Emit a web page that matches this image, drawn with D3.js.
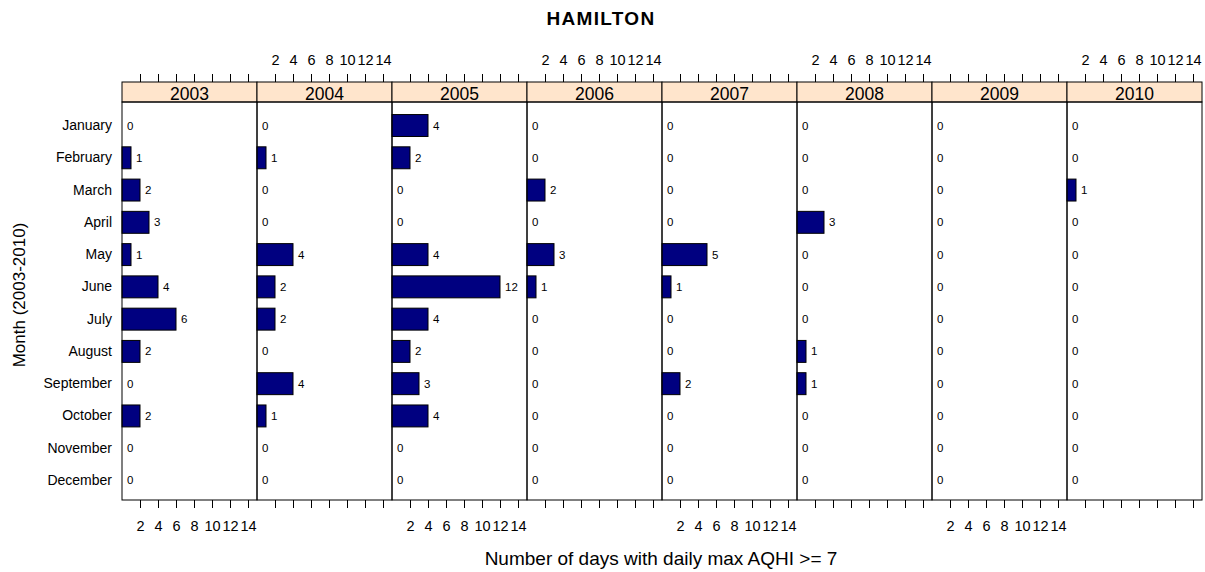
<!DOCTYPE html>
<html><head><meta charset="utf-8">
<script src="https://cdn.jsdelivr.net/npm/d3@7"></script>
<style>body{margin:0;background:#fff}svg{display:block}text{font-family:"Liberation Sans",Arial,sans-serif}</style>
</head><body><svg id="c" width="1205" height="572"></svg>
<script>
const months = ["January","February","March","April","May","June","July","August","September","October","November","December"];
const years = ["2003","2004","2005","2006","2007","2008","2009","2010"];
const v2003 = [0,1,2,3,1,4,6,2,0,2,0,0];
const v2004 = [0,1,0,0,4,2,2,0,4,1,0,0];
const v2005 = [4,2,0,0,4,12,4,2,3,4,0,0];
const v2006 = [0,0,2,0,3,1,0,0,0,0,0,0];
const v2007 = [0,0,0,0,5,1,0,0,2,0,0,0];
const v2008 = [0,0,0,3,0,0,0,1,1,0,0,0];
const v2009 = [0,0,0,0,0,0,0,0,0,0,0,0];
const v2010 = [0,0,1,0,0,0,0,0,0,0,0,0];
const xTicks = [2,4,6,8,10,12,14];
const series = [v2003,v2004,v2005,v2006,v2007,v2008,v2009,v2010];

const FONT = '"Liberation Sans",Arial,sans-serif';
const svg = d3.select("#c");
const L = 122, R = 1202, T = 102, B = 500, stripTop = 82;
const pw = (R - L) / years.length;
const px = d3.scaleBand().domain(years).range([L, R]);
const y = d3.scaleBand().domain(months).range([T + 4, B]).paddingInner(0.32).paddingOuter(0.265);

svg.append("text").attr("x", 601).attr("y", 25).attr("text-anchor","middle")
  .attr("font-size", 19).attr("font-weight","bold").attr("letter-spacing", 1.3).text("HAMILTON");

years.forEach((yr, i) => {
  const x0 = px(yr);
  const x = d3.scaleLinear().domain([0, 15]).range([x0, x0 + pw]);
  const g = svg.append("g");
  g.append("rect").attr("x", x0).attr("y", stripTop).attr("width", pw).attr("height", T - stripTop)
    .attr("fill", "#ffe5cc").attr("stroke", "#000").attr("stroke-width", 1);
  g.append("text").attr("x", x0 + pw/2).attr("y", T - 2.5).attr("text-anchor","middle")
    .attr("font-size", 17.5).text(yr);
  const vals = series[i];
  g.selectAll("rect.bar").data(vals).join("rect").attr("class","bar")
    .attr("x", x(0)).attr("y", (d,j) => y(months[j]))
    .attr("width", d => x(d) - x(0)).attr("height", y.bandwidth())
    .attr("fill", "#000080").attr("stroke", "#000").attr("stroke-width", d => d > 0 ? 1 : 0);
  g.selectAll("text.val").data(vals).join("text").attr("class","val")
    .attr("x", d => x(d) + 5).attr("y", (d,j) => y(months[j]) + y.bandwidth()/2 + 4)
    .attr("font-size", 11.5).attr("fill", "#000").text(d => d);
  g.append("rect").attr("x", x0).attr("y", T).attr("width", pw).attr("height", B - T)
    .attr("fill", "none").attr("stroke", "#000").attr("stroke-width", 1);
  const topAx = d3.axisTop(x).tickValues(xTicks).tickSize(8).tickPadding(9)
    .tickFormat(i % 2 === 1 ? d3.format("d") : "");
  const ta = svg.append("g").attr("transform", `translate(0,${stripTop})`).call(topAx);
  const botAx = d3.axisBottom(x).tickValues(xTicks).tickSize(8).tickPadding(13)
    .tickFormat(i % 2 === 0 ? d3.format("d") : "");
  const ba = svg.append("g").attr("transform", `translate(0,${B})`).call(botAx);
  [ta, ba].forEach(a => {
    a.select(".domain").remove();
    a.selectAll("text").attr("font-size", 14.5).attr("font-family", FONT).attr("fill","#000");
  });
});

const ya = svg.append("g").attr("transform", `translate(${L},0)`)
  .call(d3.axisLeft(y).tickSize(0).tickPadding(10));
ya.select(".domain").remove();
ya.selectAll("text").attr("font-size", 14).attr("font-family", FONT).attr("fill","#000");

svg.append("text").attr("transform", "translate(25,295) rotate(-90)").attr("text-anchor","middle")
  .attr("font-size", 17).text("Month (2003-2010)");
svg.append("text").attr("x", 661).attr("y", 565).attr("text-anchor","middle")
  .attr("font-size", 19).text("Number of days with daily max AQHI >= 7");
</script></body></html>
